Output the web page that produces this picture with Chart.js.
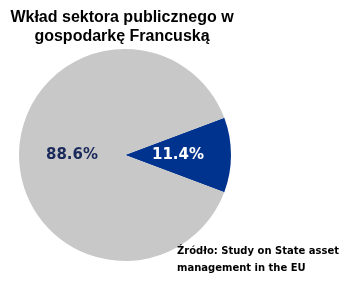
<!DOCTYPE html>
<html>
<head>
<meta charset="utf-8">
<script src="https://cdn.jsdelivr.net/npm/chart.js@4"></script>
<style>
  body { margin: 0; background: #fff; }
  #wrap { position: relative; width: 352px; height: 283px; }
  #title {
    position: absolute; left: 0; top: 7px; width: 244px;
    font: bold 16px "Liberation Sans", Arial, sans-serif;
    text-align: center; line-height: 19px; color: #000; white-space: nowrap;
  }
  #source {
    position: absolute; left: 177px; top: 242px;
    font: bold 10px "DejaVu Sans", Verdana, sans-serif;
    line-height: 17px; color: #000; white-space: nowrap;
  }
</style>
</head>
<body>
<div id="wrap">
  <canvas id="pie" width="352" height="283"></canvas>
  <div id="title">Wkład sektora publicznego w<br>gospodarkę Francuską</div>
  <div id="source">Źródło: Study on State asset<br>management in the EU</div>
</div>
<script>
// dane
let labels = ["Sektor publiczny", "Pozostałe"];
let values = [11.4, 88.6];
let colors = ["#00338D", "#C8C8C8"];
let textColors = ["#FFFFFF", "#1A2A5A"];

// podpisy procentowe na wycinkach
const sliceLabels = {
    id: "sliceLabels",
    afterDatasetsDraw(chart) {
        let ctx = chart.ctx;
        let meta = chart.getDatasetMeta(0);
        ctx.save();
        ctx.font = "bold 15px 'DejaVu Sans', Verdana, sans-serif";
        ctx.textAlign = "center";
        ctx.textBaseline = "middle";
        meta.data.forEach((arc, i) => {
            let pos = arc.tooltipPosition();
            ctx.fillStyle = textColors[i];
            ctx.fillText(values[i].toFixed(1) + "%", pos.x, pos.y);
        });
        ctx.restore();
    }
};

new Chart(document.getElementById("pie"), {
    type: "pie",
    data: {
        labels: labels,
        datasets: [{
            data: values,
            backgroundColor: colors,
            borderWidth: 0
        }]
    },
    options: {
        responsive: false,
        animation: false,
        rotation: 90 - values[0] / 100 * 180,
        layout: { padding: { left: 19, right: 121, top: 49, bottom: 22 } },
        plugins: {
            legend: { display: false },
            tooltip: { enabled: false }
        }
    },
    plugins: [sliceLabels]
});
</script>
</body>
</html>
